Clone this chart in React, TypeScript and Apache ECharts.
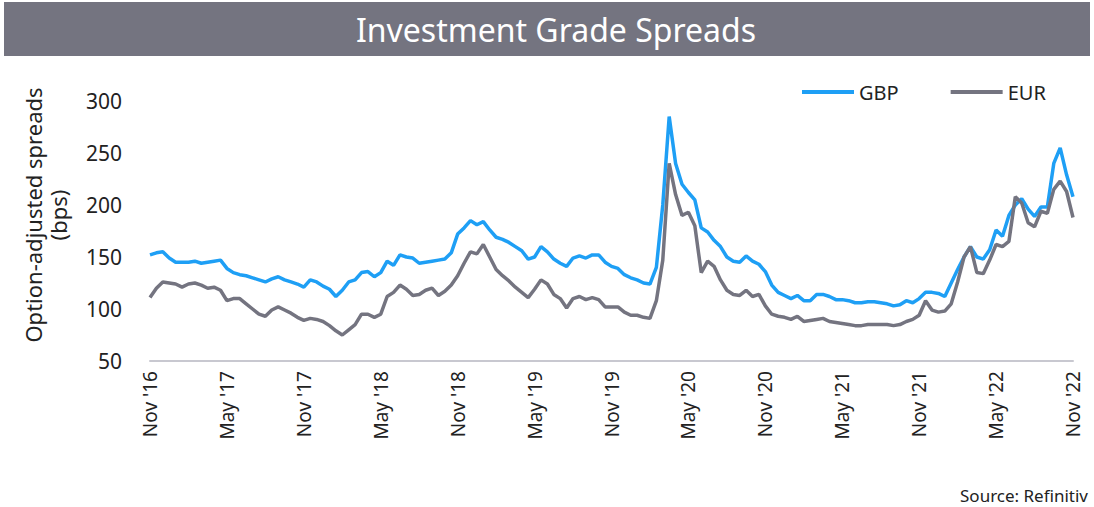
import React, { useEffect, useRef } from "react";
import * as echarts from "echarts";

const tickLabels = ["Nov '16", "May '17", "Nov '17", "May '18", "Nov '18", "May '19", "Nov '19", "May '20", "Nov '20", "May '21", "Nov '21", "May '22", "Nov '22"];

// semi-monthly observations, Nov 2016 .. Nov 2022
const gbp = [
  152, 154, 155, 149, 145, 145, 145, 146, 144, 145, 146, 147, 139, 135, 133, 132, 130, 128, 126, 129,
  131, 128, 126, 124, 121, 128, 126, 122, 119, 112, 118, 126, 128, 135, 136, 131, 135, 146, 142, 152,
  150, 149, 144, 145, 146, 147, 148, 154, 172, 178, 185, 181, 184, 176, 169, 167, 164, 160, 156, 148,
  150, 160, 155, 148, 144, 141, 149, 151, 149, 152, 152, 145, 141, 139, 133, 130, 128, 125, 124, 140,
  200, 285, 240, 220, 212, 205, 178, 174, 166, 160, 150, 146, 145, 151, 146, 143, 136, 123, 116, 113,
  110, 113, 108, 108, 114, 114, 112, 109, 109, 108, 106, 106, 107, 107, 106, 105, 103, 104, 108, 106,
  110, 116, 116, 115, 112, 125, 138, 150, 160, 150, 148, 157, 176, 170, 190, 200, 206, 196, 189, 198,
  198, 240, 255, 229, 208,
];
const eur = [
  111, 120, 126, 125, 124, 121, 124, 125, 123, 120, 121, 118, 108, 110, 110, 105, 100, 95, 93, 99,
  102, 99, 96, 92, 89, 91, 90, 88, 84, 79, 75, 80, 85, 95, 95, 92, 95, 112, 116, 123,
  119, 113, 114, 118, 120, 113, 117, 123, 132, 144, 155, 153, 162, 150, 138, 132, 127, 121, 116, 111,
  119, 128, 124, 114, 110, 101, 110, 112, 109, 111, 109, 102, 102, 102, 97, 94, 94, 92, 91, 108,
  147, 240, 210, 190, 193, 180, 135, 146, 141, 128, 118, 114, 113, 118, 112, 114, 103, 95, 93, 92,
  90, 93, 88, 89, 90, 91, 88, 87, 86, 85, 84, 84, 85, 85, 85, 85, 84, 85, 88, 90,
  94, 108, 99, 97, 98, 105, 126, 150, 160, 135, 134, 147, 162, 160, 165, 208, 202, 183, 179, 194,
  192, 215, 223, 213, 188,
];

const GBP_COLOR = "#1E9FF5";
const EUR_COLOR = "#747480";

export default function App() {
  const ref = useRef<HTMLDivElement>(null);
  useEffect(() => {
    document.body.style.margin = "0";
    const chart = echarts.init(ref.current!, null, { renderer: "svg" });
    const font = "'Noto Sans', 'DejaVu Sans', sans-serif";
    chart.setOption({
      animation: false,
      textStyle: { fontFamily: font },
      grid: { left: 150, right: 21, top: 101, bottom: 146 },
      legend: {
        left: 797,
        top: 77,
        itemWidth: 52,
        itemHeight: 4,
        itemGap: 52,
        icon: "rect",
        textStyle: { fontSize: 20, color: "#222", fontFamily: font },
        data: ["GBP", "EUR"],
      },
      xAxis: {
        type: "value",
        min: 0,
        max: 144,
        interval: 12,
        axisLine: { show: true, lineStyle: { color: "#c8c8d0", width: 2 } },
        axisTick: { show: false },
        splitLine: { show: false },
        axisLabel: {
          rotate: 90,
          fontSize: 19,
          color: "#222",
          margin: 10,
          formatter: (v: number) => tickLabels[Math.round(v / 12)] ?? "",
        },
      },
      yAxis: {
        type: "value",
        min: 50,
        max: 300,
        interval: 50,
        axisLine: { show: false },
        axisTick: { show: false },
        splitLine: { show: false },
        axisLabel: { fontSize: 21, color: "#222", margin: 28 },
      },
      series: [
        {
          name: "GBP",
          type: "line",
          data: gbp.map((v, i) => [i, v]),
          showSymbol: false,
          lineStyle: { color: GBP_COLOR, width: 3.5 },
          itemStyle: { color: GBP_COLOR },
        },
        {
          name: "EUR",
          type: "line",
          data: eur.map((v, i) => [i, v]),
          showSymbol: false,
          lineStyle: { color: EUR_COLOR, width: 3.5 },
          itemStyle: { color: EUR_COLOR },
        },
      ],
      graphic: [
        { type: "rect", left: 4, top: 2, shape: { width: 1086, height: 54 }, style: { fill: "#747480" }, silent: true },
        {
          type: "text",
          x: 556,
          y: 29,
          style: { text: "Investment Grade Spreads", fill: "#fff", fontSize: 32, fontFamily: font, align: "center", verticalAlign: "middle" },
        },
        {
          type: "text",
          x: 45,
          y: 215,
          rotation: Math.PI / 2,
          style: { text: "Option-adjusted spreads\n(bps)", fill: "#222", fontSize: 22, fontFamily: font, align: "center", verticalAlign: "middle", lineHeight: 25 },
        },
        {
          type: "text",
          x: 1088,
          y: 495,
          style: { text: "Source: Refinitiv", fill: "#222", fontSize: 17, fontFamily: font, align: "right", verticalAlign: "middle" },
        },
      ],
    });
    return () => chart.dispose();
  }, []);
  return <div ref={ref} style={{ width: 1094, height: 507 }} />;
}
